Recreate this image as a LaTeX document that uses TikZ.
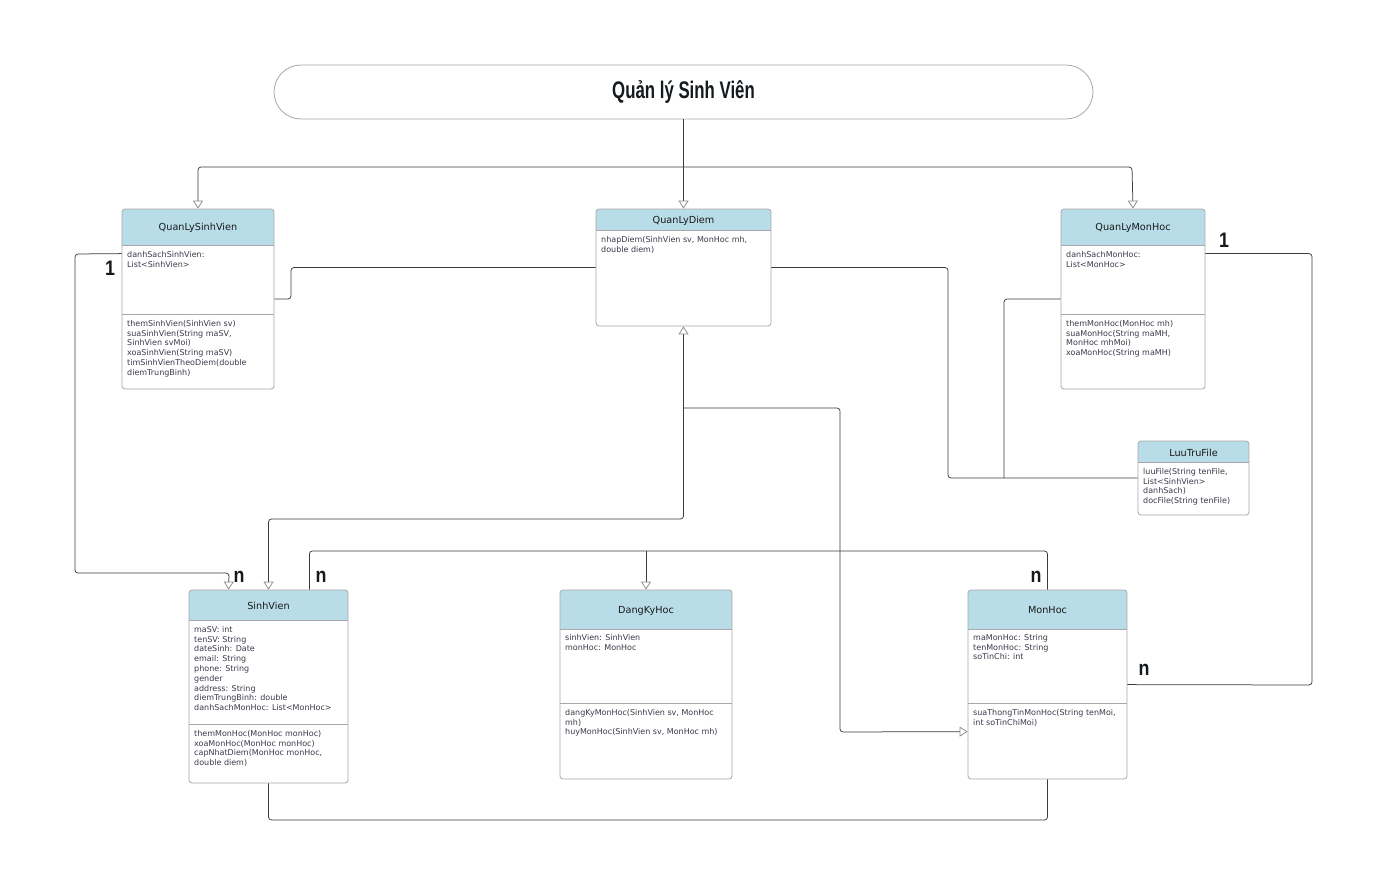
\documentclass[tikz,border=0pt]{standalone}
\usepackage{fontspec}
\usepackage{graphicx}
\setmainfont{DejaVu Sans}
\newfontfamily\titlefont{Liberation Sans}
\usetikzlibrary{arrows.meta}
\definecolor{hdr}{HTML}{B9DDE8}
\definecolor{bord}{HTML}{A8A8A8}
\definecolor{lin}{HTML}{3C3C3C}
\definecolor{txt}{HTML}{3A3A4A}
\definecolor{lbl}{HTML}{141A1E}
\newcommand{\umlbox}[7]{%
  \begin{scope}
    \clip[rounded corners=3pt] (#2,#3) rectangle (#4,#5);
    \fill[hdr] (#2,#3) rectangle (#4,#6);
  \end{scope}
  \draw[bord, line width=0.8pt] (#2,#6) -- (#4,#6);
  \node[clsbox, minimum width={(#4-#2)*1pt}, minimum height={(#5-#3)*1pt}] (#1) at ({(#2+#4)/2},{(#3+#5)/2}) {};
  \node[hdrtext] (#1-t) at ({(#2+#4)/2},{(#3+#6)/2+1}) {#7};
}
\newcommand{\multlbl}[1]{\scalebox{0.85}[1]{#1}}
\begin{document}
\begin{tikzpicture}[x=1pt,y=-1pt,
  clsbox/.style={draw=bord, line width=0.8pt, rounded corners=3pt, inner sep=0pt},
  hdrtext/.style={font=\fontsize{9.7}{11}\selectfont, text=black!90, inner sep=0pt},
  body/.style={font=\fontsize{8}{9.8}\selectfont, text=txt, align=left, inner sep=0pt, anchor=north west},
  conn/.style={draw=lin, line width=0.75pt, rounded corners=3pt},
  tri/.tip={Triangle[open, length=8pt, width=10pt, color=black!45]},
  mult/.style={font=\titlefont\bfseries\fontsize{21}{22}\selectfont, text=lbl, inner sep=0pt},
  divl/.style={bord, line width=0.8pt}
]
\fill[white] (0,0) rectangle (1376,869);
\useasboundingbox (0,0) rectangle (1376,869);

% title
\node[draw=bord, line width=0.8pt, rounded corners=27pt, minimum width=819pt, minimum height=54pt, inner sep=0pt] (title) at (683.5,92)
  {\titlefont\bfseries\fontsize{24}{25}\selectfont\color{lbl}\scalebox{0.7}[1]{Quản lý Sinh Viên}};

% classes
\umlbox{qlsv}{122}{209}{274}{389}{245}{QuanLySinhVien}
\draw[divl] (122,314) -- (274,314);
\node[body] (qlsv-a) at (127,251) {danhSachSinhVien:\\List<SinhVien>};
\node[body] (qlsv-m) at (127,320) {themSinhVien(SinhVien sv)\\suaSinhVien(String maSV,\\SinhVien svMoi)\\xoaSinhVien(String maSV)\\timSinhVienTheoDiem(double\\diemTrungBinh)};

\umlbox{qld}{596}{209}{771}{326}{230}{QuanLyDiem}
\node[body] (qld-m) at (601,236) {nhapDiem(SinhVien sv, MonHoc mh,\\double diem)};

\umlbox{qlmh}{1061}{209}{1205}{389}{245}{QuanLyMonHoc}
\draw[divl] (1061,314) -- (1205,314);
\node[body] (qlmh-a) at (1066,251) {danhSachMonHoc:\\List<MonHoc>};
\node[body] (qlmh-m) at (1066,320) {themMonHoc(MonHoc mh)\\suaMonHoc(String maMH,\\MonHoc mhMoi)\\xoaMonHoc(String maMH)};

\umlbox{ltf}{1138}{441}{1249}{515}{462}{LuuTruFile}
\node[body] (ltf-m) at (1143,468) {luuFile(String tenFile,\\List<SinhVien>\\danhSach)\\docFile(String tenFile)};

\umlbox{sv}{189}{590}{348}{783}{620}{SinhVien}
\draw[divl] (189,724) -- (348,724);
\node[body] (sv-a) at (194,626) {maSV: int\\tenSV: String\\dateSinh: Date\\email: String\\phone: String\\gender\\address: String\\diemTrungBinh: double\\danhSachMonHoc: List<MonHoc>};
\node[body] (sv-m) at (194,730) {themMonHoc(MonHoc monHoc)\\xoaMonHoc(MonHoc monHoc)\\capNhatDiem(MonHoc monHoc,\\double diem)};

\umlbox{dkh}{560}{590}{732}{779}{629}{DangKyHoc}
\draw[divl] (560,703) -- (732,703);
\node[body] (dkh-a) at (565,634) {sinhVien: SinhVien\\monHoc: MonHoc};
\node[body] (dkh-m) at (565,709) {dangKyMonHoc(SinhVien sv, MonHoc\\mh)\\huyMonHoc(SinhVien sv, MonHoc mh)};

\umlbox{mh}{968}{590}{1127}{779}{629}{MonHoc}
\draw[divl] (968,703) -- (1127,703);
\node[body] (mh-a) at (973,634) {maMonHoc: String\\tenMonHoc: String\\soTinChi: int};
\node[body] (mh-m) at (973,709) {suaThongTinMonHoc(String tenMoi,\\int soTinChiMoi)};

% connectors
\draw[conn,-{tri}] (title.south) -- (qld.north);
\draw[conn,{tri}-{tri}] (qlsv.north) |- (1132,167) -- (qlmh.north);
\draw[conn,-{tri}] ([yshift=-45pt]qlsv.north west) -- (75,254) |- (229,573) -- ([xshift=40pt]sv.north west);
\draw[conn] (qlsv.east) -- (291,299) |- (qld.west);
\draw[conn] (qld.east) -| (948,478) -- (ltf.west);
\draw[conn] (qlmh.west) -| (1004,478);
\draw[conn,{tri}-{tri}] (qld.south) |- (sv.north |- 0,519) -- (sv.north);
\draw[conn,-{tri}] (684,408) -| (840,732) -- ([yshift=-142pt]mh.north west);
\draw[conn] ([xshift=-39pt]sv.north east) |- (mh.north |- 0,551) -- (mh.north);
\draw[conn,-{tri}] (dkh.north |- 0,551) -- (dkh.north);
\draw[conn] ([yshift=-45pt]qlmh.north east) -| (1312,685) -- ([yshift=-95pt]mh.north east);
\draw[conn] (sv.south) |- (mh.south |- 0,820) -- (mh.south);

% multiplicities
\node[mult] (m1) at (110,268) {\multlbl{1}};
\node[mult] (m2) at (239,577) {\multlbl{n}};
\node[mult] (m3) at (321,577) {\multlbl{n}};
\node[mult] (m4) at (1036,577) {\multlbl{n}};
\node[mult] (m5) at (1224,240) {\multlbl{1}};
\node[mult] (m6) at (1144,670) {\multlbl{n}};
\end{tikzpicture}
\end{document}
